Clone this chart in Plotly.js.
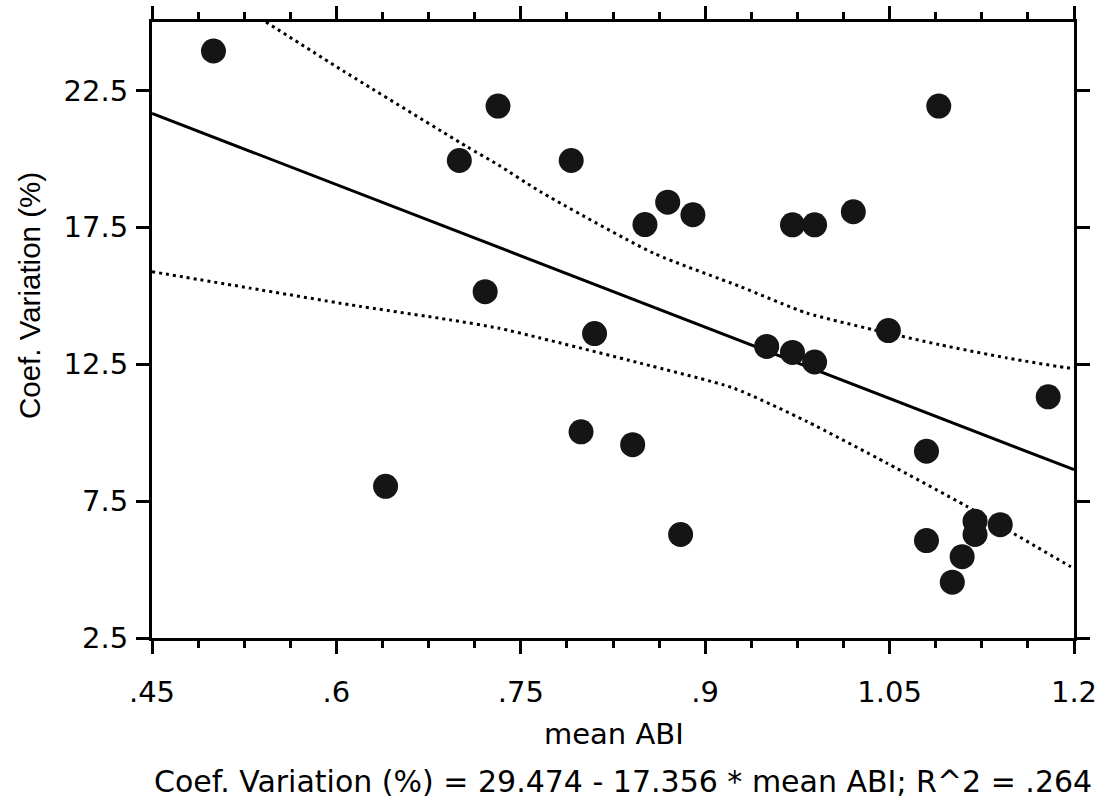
<!DOCTYPE html>
<html>
<head>
<meta charset="utf-8">
<script src="https://cdn.plot.ly/plotly-3.0.1.min.js"></script>
<style>
html,body{margin:0;padding:0;background:#fff;}
#chart{width:1105px;height:805px;}
</style>
</head>
<body>
<div id="chart"></div>
<script>
// Observed points: mean ABI vs Coef. Variation (%)
var meanABI = [0.500, 0.700, 0.7315, 0.721, 0.640, 0.791, 0.799, 0.810, 0.841, 0.851,
               0.8695, 0.880, 0.890, 0.950, 0.971, 0.971, 0.989, 0.989, 1.0205, 1.049,
               1.080, 1.080, 1.090, 1.1195, 1.1195, 1.140, 1.109, 1.101, 1.179];
var coefVar = [23.94, 19.94, 21.93, 15.15, 8.04, 19.94, 10.03, 13.62, 9.56, 17.60,
               18.42, 6.28, 17.96, 13.15, 17.59, 12.93, 17.59, 12.58, 18.07, 13.73,
               9.32, 6.06, 21.93, 6.76, 6.28, 6.64, 5.47, 4.54, 11.31];

// Regression (printed on the chart)
var intercept = 29.474;
var slope = -17.356;
var fitX = [0.45, 1.2];

// Upper confidence curve
var upperX = [0.5427, 0.606, 0.706, 0.7317, 0.7656, 0.8578, 0.9283, 0.9826, 1.0368, 1.091, 1.1453, 1.1968, 1.2];
var upperY = [25.0, 23.20, 20.45, 19.78, 18.81, 16.56, 15.34, 14.37, 13.76, 13.21, 12.73, 12.36, 12.37];

// Lower confidence curve
var lowerX = [0.45, 0.5297, 0.6111, 0.6924, 0.7317, 0.7656, 0.847, 0.9229, 0.9826, 1.0477, 1.1127, 1.1968, 1.2];
var lowerY = [15.88, 15.28, 14.67, 14.12, 13.82, 13.46, 12.54, 11.63, 10.41, 8.89, 7.31, 5.12, 5.05];

var xTickVals = [0.45, 0.6, 0.75, 0.9, 1.05, 1.2];
var xTickText = [".45", ".6", ".75", ".9", "1.05", "1.2"];
var yTickVals = [2.5, 7.5, 12.5, 17.5, 22.5];
var yTickText = ["2.5", "7.5", "12.5", "17.5", "22.5"];

var xTitle = "mean ABI";
var yTitle = "Coef. Variation (%)";
var eqText = "Coef. Variation (%) = 29.474 - 17.356 * mean ABI; R^2 = .264";

var fitY = fitX.map(function(x){ return intercept + slope * x; });

var WIDE = "DejaVu Sans, Verdana, sans-serif";
var NARROW = "Liberation Sans, Arial, sans-serif";

var traces = [
  {x: upperX, y: upperY, mode: 'lines', type: 'scatter', line: {color: '#000', width: 3, dash: '3px,4px', shape: 'spline', smoothing: 0.6}, hoverinfo: 'skip'},
  {x: lowerX, y: lowerY, mode: 'lines', type: 'scatter', line: {color: '#000', width: 3, dash: '3px,4px', shape: 'spline', smoothing: 0.6}, hoverinfo: 'skip'},
  {x: fitX, y: fitY, mode: 'lines', type: 'scatter', line: {color: '#000', width: 3}},
  {x: meanABI, y: coefVar, mode: 'markers', type: 'scatter', marker: {color: '#151515', size: 25, line: {width: 0}}}
];

var layout = {
  width: 1105, height: 805,
  margin: {l: 152, r: 31, t: 22, b: 167, pad: 0},
  paper_bgcolor: '#fff', plot_bgcolor: '#fff',
  showlegend: false,
  font: {family: WIDE, size: 29, color: '#000'},
  xaxis: {
    range: [0.45, 1.2], showgrid: false, zeroline: false,
    showline: true, linecolor: '#000', linewidth: 3, mirror: 'ticks',
    ticks: 'outside', ticklen: 13, tickwidth: 3, tickcolor: '#000',
    tickmode: 'array', tickvals: xTickVals, ticktext: xTickText,
    tickfont: {family: WIDE, size: 29, color: '#000'},
    ticklabelstandoff: 13,
    minor: {ticks: 'outside', ticklen: 7, tickwidth: 3, tickcolor: '#000', dtick: 0.0375, tick0: 0.45, showgrid: false}
  },
  yaxis: {
    range: [2.5, 25], showgrid: false, zeroline: false,
    showline: true, linecolor: '#000', linewidth: 3, mirror: 'ticks',
    ticks: 'outside', ticklen: 13, tickwidth: 3, tickcolor: '#000',
    tickmode: 'array', tickvals: yTickVals, ticktext: yTickText,
    tickfont: {family: WIDE, size: 29, color: '#000'},
    ticklabelstandoff: 2
  },
  annotations: [
    {text: xTitle, xref: 'paper', yref: 'paper', x: (614 - 152) / 922, y: (638 - 734) / 616, xanchor: 'center', yanchor: 'middle', showarrow: false, font: {family: WIDE, size: 29, color: '#000'}},
    {text: eqText, xref: 'paper', yref: 'paper', x: (623 - 152) / 922, y: (638 - 781) / 616, xanchor: 'center', yanchor: 'middle', showarrow: false, font: {family: WIDE, size: 30, color: '#000'}},
    {text: yTitle, xref: 'paper', yref: 'paper', x: (29 - 152) / 922, y: (638 - 296) / 616, xanchor: 'center', yanchor: 'middle', textangle: -90, showarrow: false, font: {family: NARROW, size: 29.5, color: '#000'}}
  ]
};

Plotly.newPlot('chart', traces, layout, {displayModeBar: false, staticPlot: true});
</script>
</body>
</html>
